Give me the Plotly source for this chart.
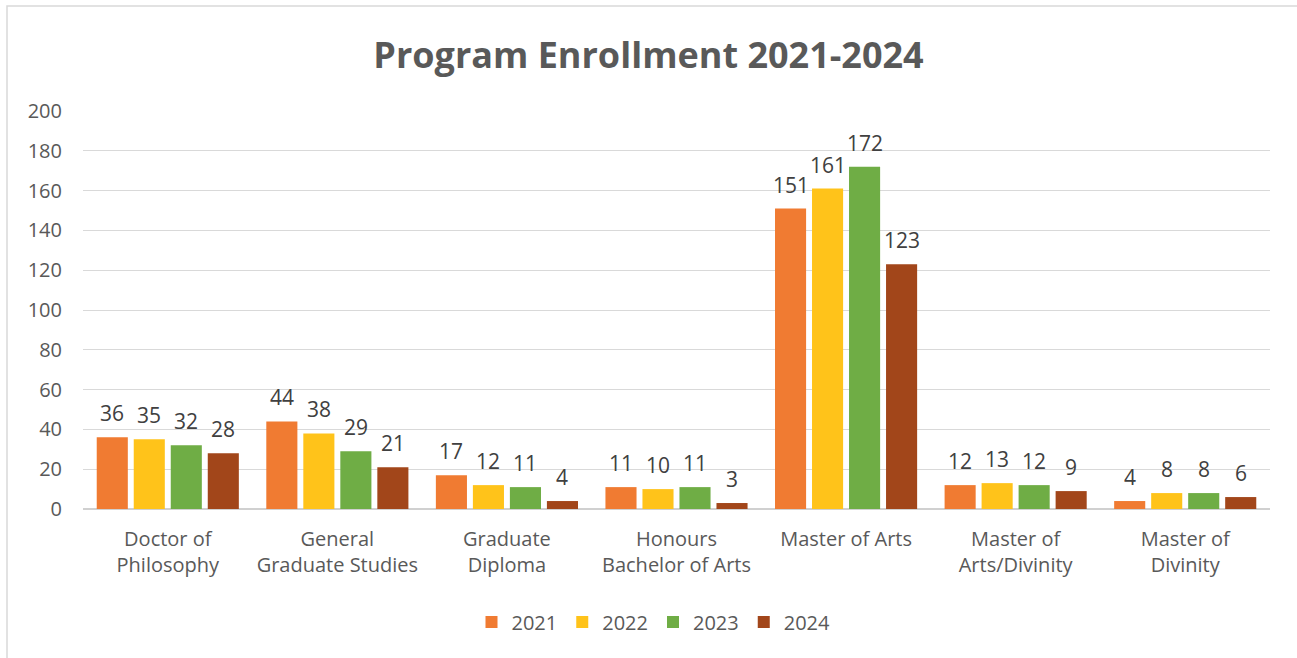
import plotly.graph_objects as go

categories = ["Doctor of<br>Philosophy", "General<br>Graduate Studies", "Graduate<br>Diploma",
              "Honours<br>Bachelor of Arts", "Master of Arts", "Master of<br>Arts/Divinity", "Master of<br>Divinity"]
years = ["2021", "2022", "2023", "2024"]
v2021 = [36, 44, 17, 11, 151, 12, 4]
v2022 = [35, 38, 12, 10, 161, 13, 8]
v2023 = [32, 29, 11, 11, 172, 12, 8]
v2024 = [28, 21, 4, 3, 123, 9, 6]
series = [v2021, v2022, v2023, v2024]
colors = ["#F07B32", "#FFC31A", "#6FAD45", "#A2461A"]

W, H = 1297, 658
L, R, T, B = 83, 27, 111, 149
pw, ph = W - L - R, H - T - B
bargap = 0.127
slot = pw / len(categories) * (1 - bargap) / len(years)

fig = go.Figure()
for name, vals, col in zip(years, series, colors):
    fig.add_trace(go.Bar(
        x=categories, y=vals, name=name,
        marker=dict(color=col, line=dict(width=0)),
    ))

annotations = []
for i, vals in enumerate(series):
    for cat, v in zip(categories, vals):
        annotations.append(dict(
            x=cat, y=v, xref="x", yref="y", text=str(v), showarrow=False,
            xanchor="center", yanchor="bottom", yshift=8,
            xshift=(i - 1.5) * slot,
            font=dict(size=21, color="#404040", family="Open Sans"),
        ))

fig.update_layout(
    width=W, height=H,
    margin=dict(l=L, r=R, t=T, b=B),
    paper_bgcolor="white", plot_bgcolor="white",
    barmode="group", bargap=bargap, bargroupgap=0.16,
    title=dict(text="<b>Program Enrollment 2021-2024</b>", x=0.5, xanchor="center",
               y=1 - 55 / H, yanchor="middle",
               font=dict(size=36, color="#595959", family="Open Sans")),
    font=dict(family="Open Sans", color="#595959"),
    yaxis=dict(range=[0, 200], dtick=20, showgrid=True, gridcolor="#D9D9D9", gridwidth=1,
               zeroline=True, zerolinecolor="#D0D0D0", zerolinewidth=2,
               tickfont=dict(size=20, color="#595959"), ticklabelstandoff=20, showline=False),
    xaxis=dict(tickfont=dict(size=20, color="#595959"), showline=False, ticks="",
               ticklabelstandoff=16),
    legend=dict(orientation="h", x=(653.5 - L) / pw, xanchor="center", y=(T + ph - 622) / ph,
                yanchor="middle", font=dict(size=20, color="#595959"), itemwidth=30,
                traceorder="normal"),
    showlegend=True,
    annotations=annotations,
)

# outer chart border (left/top edges visible)
x0 = (7 - L) / pw
y1 = (T + ph - 6) / ph
fig.add_shape(type="rect", xref="paper", yref="paper", x0=x0, x1=(W + 20 - L) / pw,
              y0=-(H + 20 - T - ph) / ph, y1=y1,
              line=dict(color="#D9D9D9", width=1.5), fillcolor="rgba(0,0,0,0)", layer="below")

fig.write_html("out.html")
